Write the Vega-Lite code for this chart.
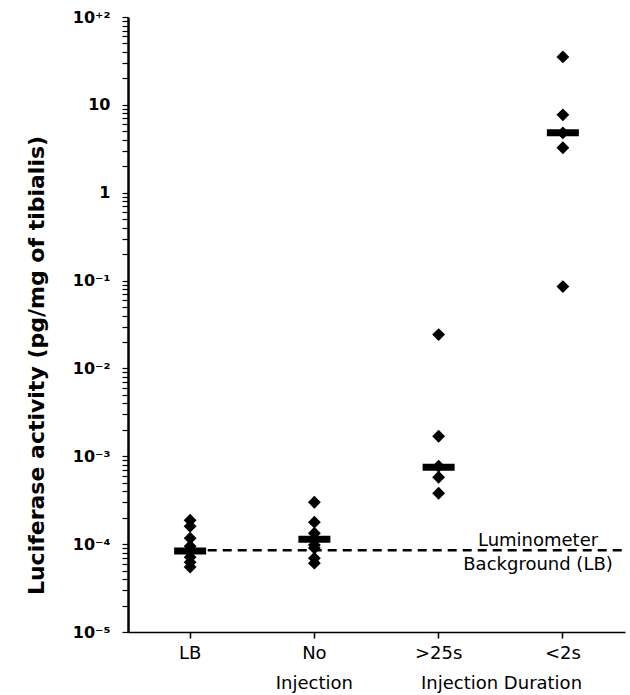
{
  "$schema": "https://vega.github.io/schema/vega-lite/v6.json",
  "width": 497,
  "height": 615,
  "autosize": {"type": "none"},
  "padding": {"left": 128, "top": 17, "right": 5, "bottom": 63},
  "background": "white",
  "config": {
    "view": {"stroke": null},
    "font": "DejaVu Sans",
    "axisX": {
      "titleX": 373,
      "titleY": 56,
      "titleAlign": "center",
      "titleBaseline": "alphabetic",
      "titleFont": "DejaVu Sans",
      "titleFontSize": 18,
      "titleFontWeight": "normal",
      "titleColor": "black",
      "labelAngle": 0,
      "labelAlign": "center",
      "labelBaseline": "top",
      "labelFont": "DejaVu Sans",
      "labelFontSize": 18,
      "labelColor": "black",
      "labelLineHeight": 30,
      "labelPadding": 6,
      "tickSize": 6,
      "tickColor": "black",
      "tickWidth": 1.5,
      "domainColor": "black",
      "domainWidth": 1.5,
      "grid": false
    },
    "axisY": {
      "titleFont": "DejaVu Sans",
      "titleFontSize": 22,
      "titleFontWeight": "bold",
      "titleColor": "black",
      "titleX": -92,
      "titleY": 348,
      "titleAngle": 270,
      "titleAlign": "center",
      "titleBaseline": "middle",
      "grid": false,
      "labelFont": "DejaVu Sans",
      "labelFontSize": 16,
      "labelFontWeight": "bold",
      "labelColor": "black",
      "labelPadding": 12,
      "tickSize": 6,
      "tickColor": "black",
      "tickWidth": 1.2,
      "domainColor": "black",
      "domainWidth": 2.5,
      "zindex": 1
    }
  },
  "datasets": {
    "points": [
      {"group": "LB", "value": 0.000187},
      {"group": "LB", "value": 0.000160},
      {"group": "LB", "value": 0.000117},
      {"group": "LB", "value": 0.0000949},
      {"group": "LB", "value": 0.0000833},
      {"group": "LB", "value": 0.0000711},
      {"group": "LB", "value": 0.0000624},
      {"group": "LB", "value": 0.0000548},
      {"group": "No Injection", "value": 0.000300},
      {"group": "No Injection", "value": 0.000178},
      {"group": "No Injection", "value": 0.000133},
      {"group": "No Injection", "value": 0.000114},
      {"group": "No Injection", "value": 0.0000976},
      {"group": "No Injection", "value": 0.0000902},
      {"group": "No Injection", "value": 0.0000693},
      {"group": "No Injection", "value": 0.0000608},
      {"group": ">25s", "value": 0.0243},
      {"group": ">25s", "value": 0.00169},
      {"group": ">25s", "value": 0.00077},
      {"group": ">25s", "value": 0.000577},
      {"group": ">25s", "value": 0.000380},
      {"group": "<2s", "value": 35.1},
      {"group": "<2s", "value": 7.7},
      {"group": "<2s", "value": 4.8},
      {"group": "<2s", "value": 3.25},
      {"group": "<2s", "value": 0.0855}
    ],
    "medians": [
      {"group": "LB", "value": 0.0000833},
      {"group": "No Injection", "value": 0.000114},
      {"group": ">25s", "value": 0.00075},
      {"group": "<2s", "value": 4.8}
    ],
    "labels": [
      {"text": "Luminometer", "pos": "above"},
      {"text": "Background (LB)", "pos": "below"}
    ]
  },
  "layer": [
    {
      "data": {"values": [{"group": "LB", "value": 0.000085}]},
      "mark": {"type": "rule", "color": "black", "strokeWidth": 2.5, "strokeDash": [9, 6]},
      "encoding": {
        "x": {"field": "group", "type": "nominal", "bandPosition": 0.4},
        "x2": {"datum": "<2s", "bandPosition": 1},
        "y": {"field": "value", "type": "quantitative"}
      }
    },
    {
      "data": {"name": "points"},
      "mark": {"type": "point", "shape": "diamond", "filled": true, "color": "black", "size": 165, "opacity": 1},
      "encoding": {
        "x": {
          "field": "group",
          "type": "nominal",
          "sort": ["LB", "No Injection", ">25s", "<2s"],
          "scale": {"domain": ["LB", "No Injection", ">25s", "<2s"], "paddingInner": 0, "paddingOuter": 0},
          "axis": {
            "title": "Injection Duration",
            "labelExpr": "datum.value == 'No Injection' ? ['No', 'Injection'] : datum.value"
          }
        },
        "y": {
          "field": "value",
          "type": "quantitative",
          "scale": {"type": "log", "domain": [0.00001, 100], "nice": false},
          "axis": {
            "title": "Luciferase activity (pg/mg of tibialis)",
            "tickCount": 100,
            "values": [0.00001, 0.00002, 0.00003, 0.00004, 0.00005, 0.00006, 0.00007, 0.00008, 0.00009,
                       0.0001, 0.0002, 0.0003, 0.0004, 0.0005, 0.0006, 0.0007, 0.0008, 0.0009,
                       0.001, 0.002, 0.003, 0.004, 0.005, 0.006, 0.007, 0.008, 0.009,
                       0.01, 0.02, 0.03, 0.04, 0.05, 0.06, 0.07, 0.08, 0.09,
                       0.1, 0.2, 0.3, 0.4, 0.5, 0.6, 0.7, 0.8, 0.9,
                       1, 2, 3, 4, 5, 6, 7, 8, 9,
                       10, 20, 30, 40, 50, 60, 70, 80, 90, 100],
            "labelExpr": "datum.value == 100 ? '10⁺²' : datum.value == 10 ? '10' : datum.value == 1 ? '1' : datum.value == 0.1 ? '10⁻¹' : datum.value == 0.01 ? '10⁻²' : datum.value == 0.001 ? '10⁻³' : datum.value == 0.0001 ? '10⁻⁴' : datum.value == 0.00001 ? '10⁻⁵' : ''"
          }
        }
      }
    },
    {
      "data": {"name": "medians"},
      "mark": {"type": "tick", "color": "black", "size": 32, "thickness": 7, "opacity": 1},
      "encoding": {
        "x": {"field": "group", "type": "nominal"},
        "y": {"field": "value", "type": "quantitative"}
      }
    },
    {
      "data": {"name": "labels"},
      "transform": [{"filter": "datum.pos == 'above'"}],
      "mark": {"type": "text", "font": "DejaVu Sans", "fontSize": 18, "color": "black", "align": "center", "baseline": "alphabetic", "dy": -4},
      "encoding": {
        "x": {"datum": "<2s", "type": "nominal", "bandPosition": 0.3},
        "y": {"datum": 0.000085, "type": "quantitative"},
        "text": {"field": "text"}
      }
    },
    {
      "data": {"name": "labels"},
      "transform": [{"filter": "datum.pos == 'below'"}],
      "mark": {"type": "text", "font": "DejaVu Sans", "fontSize": 18, "color": "black", "align": "center", "baseline": "alphabetic", "dy": 20},
      "encoding": {
        "x": {"datum": "<2s", "type": "nominal", "bandPosition": 0.3},
        "y": {"datum": 0.000085, "type": "quantitative"},
        "text": {"field": "text"}
      }
    }
  ]
}
